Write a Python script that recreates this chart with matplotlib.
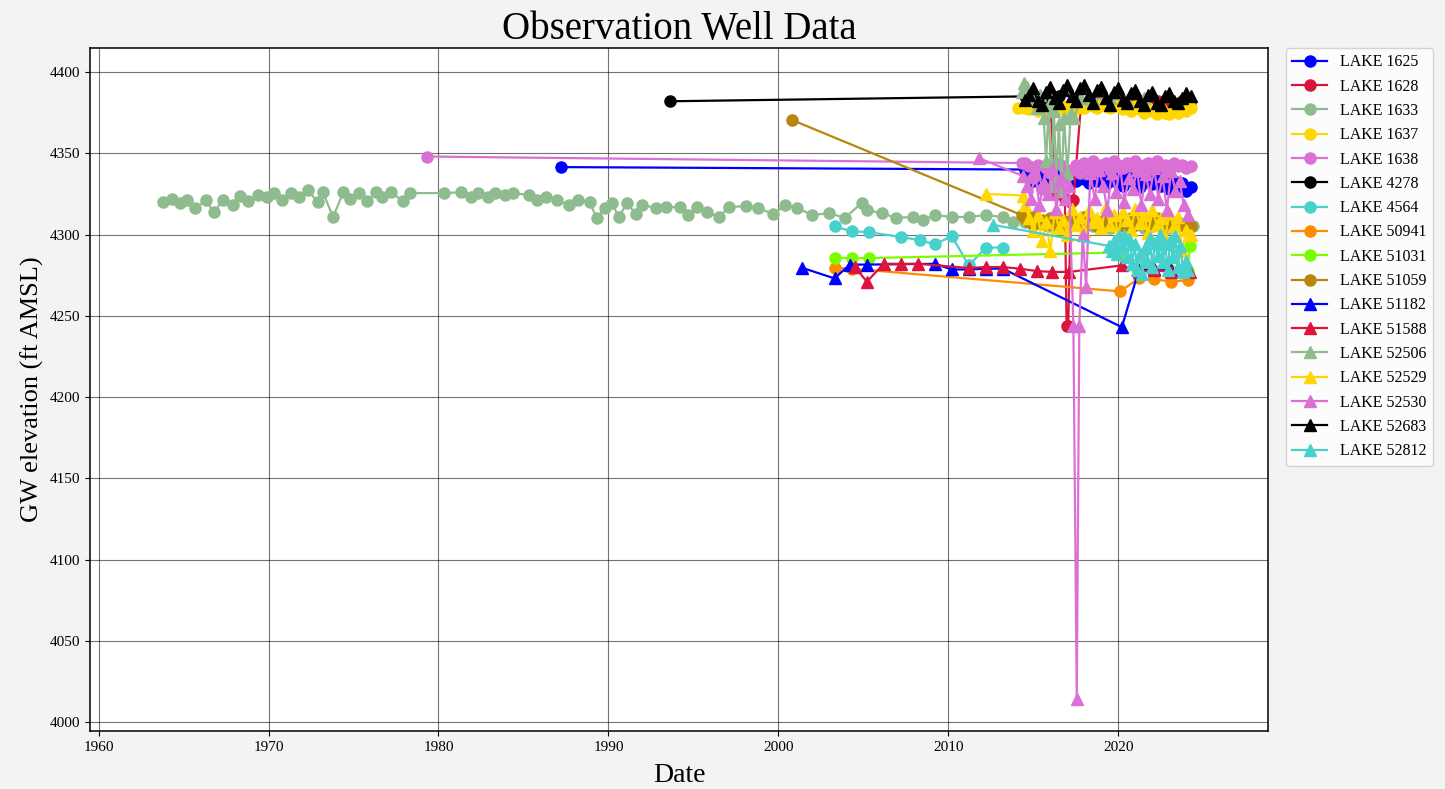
import matplotlib
matplotlib.use("Agg")
import matplotlib.pyplot as plt
from matplotlib.ticker import MultipleLocator, FormatStrFormatter

plt.rcParams['font.family'] = ['Liberation Serif', 'DejaVu Serif']

# ---- data (decimal years, ft AMSL) ----
dense_dates = [2014.5, 2014.75, 2015.0, 2015.25, 2015.5, 2015.75, 2016.0, 2016.25, 2016.5, 2016.75,
               2017.0, 2017.25, 2017.5, 2017.75, 2018.0, 2018.25, 2018.5, 2018.75, 2019.0, 2019.25,
               2019.5, 2019.75, 2020.0, 2020.25, 2020.5, 2020.75, 2021.0, 2021.25, 2021.5, 2021.75,
               2022.0, 2022.25, 2022.5, 2022.75, 2023.0, 2023.25, 2023.5, 2023.75, 2024.0, 2024.25]

lake1625_x = [1987.2] + dense_dates
lake1625_y = [4341.5, 4340, 4337, 4333, 4336, 4331, 4338, 4334, 4330, 4337, 4335, 4339, 4336, 4333, 4335,
              4334, 4332, 4337, 4333, 4336, 4331, 4335, 4333, 4337, 4330, 4334, 4336, 4332, 4329, 4335,
              4333, 4331, 4336, 4330, 4334, 4328, 4333, 4330, 4332, 4327, 4329]

lake1628_x = [2014.6, 2015.0, 2015.5, 2016.0, 2016.3, 2016.85, 2016.95, 2017.05, 2017.2, 2017.35, 2017.8,
              2018.3, 2018.8, 2019.3, 2019.8, 2020.3, 2020.8, 2021.3, 2021.8, 2022.3, 2022.8, 2023.3,
              2023.8, 2024.2]
lake1628_y = [4382, 4381, 4380, 4379, 4325, 4322, 4244, 4244, 4320, 4321, 4380, 4381, 4382, 4380, 4381,
              4382, 4380, 4381, 4379, 4382, 4380, 4381, 4383, 4381]

lake1633_x = [1963.8, 1964.35, 1964.8, 1965.2, 1965.7, 1966.3, 1966.8, 1967.3, 1967.9, 1968.3, 1968.8,
              1969.4, 1969.9, 1970.3, 1970.8, 1971.3, 1971.8, 1972.3, 1972.9, 1973.2, 1973.8, 1974.4,
              1974.8, 1975.3, 1975.8, 1976.3, 1976.7, 1977.2, 1977.9, 1978.3, 1980.3, 1981.3, 1981.9,
              1982.3, 1982.9, 1983.3, 1983.9, 1984.4, 1985.3, 1985.8, 1986.3, 1987.0, 1987.7, 1988.2,
              1988.9, 1989.3, 1989.8, 1990.2, 1990.6, 1991.1, 1991.6, 1992.0, 1992.8, 1993.4, 1994.2,
              1994.7, 1995.2, 1995.8, 1996.5, 1997.1, 1998.1, 1998.8, 1999.7, 2000.4, 2001.1, 2002.0,
              2003.0, 2003.9, 2004.9, 2005.2, 2006.1, 2006.9, 2007.9, 2008.5, 2009.2, 2010.2, 2011.2,
              2012.2, 2013.2, 2013.8, 2014.5, 2015.0, 2015.5, 2016.0, 2016.5, 2017.0, 2017.5, 2018.0,
              2018.5, 2019.0, 2019.5, 2020.0, 2020.5, 2021.0, 2021.5, 2022.0, 2022.5, 2023.0, 2023.5,
              2024.0, 2024.4]
lake1633_y = [4320, 4321.8, 4319.4, 4321, 4316.3, 4321, 4313.8, 4321, 4318.2, 4323.7, 4320.6,
              4324.3, 4323, 4325.5, 4321, 4325.5, 4323, 4327.4, 4320, 4326, 4310.8, 4326,
              4321.8, 4325.5, 4320.6, 4326, 4323, 4326, 4320.6, 4325.5, 4325.5, 4326, 4323,
              4325.5, 4323, 4325.5, 4324.3, 4325.5, 4324.3, 4321, 4323, 4321, 4318.2, 4321,
              4320, 4310.2, 4316.3, 4319.4, 4310.8, 4319.4, 4312.6, 4318.2, 4316.3, 4316.9, 4316.9,
              4312, 4316.9, 4313.8, 4310.8, 4316.9, 4317.5, 4316.3, 4312.6, 4318.2, 4316.3, 4312,
              4313.2, 4310.2, 4319.4, 4315, 4313.2, 4310.2, 4310.8, 4309, 4312, 4310.8, 4310.8,
              4312, 4310.8, 4307.7, 4308, 4306, 4307, 4305, 4306, 4304, 4306, 4307,
              4305, 4306, 4304, 4306, 4305, 4306, 4304, 4305, 4306, 4304, 4305,
              4306, 4305]

lake1637_x = [2014.1] + dense_dates
lake1637_y = [4378, 4378, 4377, 4379, 4376, 4378, 4375, 4377, 4376, 4378, 4377, 4379, 4378, 4377, 4379,
              4378, 4380, 4379, 4378, 4380, 4379, 4378, 4380, 4379, 4377, 4378, 4376, 4379, 4377, 4375,
              4378, 4376, 4374, 4377, 4375, 4374, 4376, 4375, 4377, 4376, 4378]

lake1638_x = [1979.3, 2014.3] + dense_dates
lake1638_y = [4348, 4344, 4344, 4342, 4335, 4343, 4328, 4341, 4338, 4344, 4330, 4342, 4336, 4340, 4343,
              4338, 4344, 4342, 4345, 4341, 4343, 4344, 4340, 4345, 4343, 4341, 4344, 4342, 4345, 4339,
              4343, 4344, 4341, 4345, 4342, 4343, 4340, 4344, 4342, 4343, 4341, 4342]

lake4278_x = [1993.6, 2014.5, 2015.5, 2016.5]
lake4278_y = [4382, 4385, 4384, 4385]

lake4564_x = [2003.3, 2004.3, 2005.3, 2007.2, 2008.3, 2009.2, 2010.2, 2011.2, 2012.2, 2013.2]
lake4564_y = [4305, 4302, 4301.5, 4298.5, 4296.6, 4294, 4299, 4281, 4292, 4292]

lake50941_x = [2003.3, 2004.3, 2020.1, 2021.2, 2022.1, 2023.1, 2024.1]
lake50941_y = [4279.5, 4279, 4265, 4273, 4272.5, 4271, 4272]

lake51031_x = [2003.3, 2004.3, 2005.3, 2020.2, 2021.1, 2022.0, 2023.0, 2024.1, 2024.2]
lake51031_y = [4285.5, 4285.5, 4285.5, 4289, 4279, 4278.5, 4278.5, 4277.5, 4293]

lake51059_x = [2000.8, 2014.3] + dense_dates
lake51059_y = [4370.5, 4312, 4310, 4308, 4311, 4307, 4309, 4306, 4310, 4308, 4305, 4309, 4307, 4310,
               4306, 4308, 4311, 4307, 4309, 4305, 4308, 4310, 4306, 4309, 4307, 4305, 4308, 4310,
               4306, 4309, 4307, 4305, 4308, 4310, 4306, 4307, 4309, 4305, 4308, 4306, 4307, 4305]

lake51182_x = [2001.4, 2003.3, 2004.2, 2005.2, 2009.2, 2010.2, 2011.2, 2012.2, 2013.2, 2020.2, 2021.2,
               2022.1, 2023.1, 2024.1]
lake51182_y = [4279.5, 4273, 4281.5, 4281.5, 4282, 4278.5, 4278.5, 4279, 4279, 4243, 4278, 4278.5,
               4278, 4277.5]

lake51588_x = [2004.5, 2005.2, 2006.2, 2007.2, 2008.2, 2011.2, 2012.2, 2013.2, 2014.2, 2015.2, 2016.1,
               2017.1, 2020.2, 2021.2, 2022.1, 2023.1, 2024.2]
lake51588_y = [4280, 4271, 4282, 4282, 4282, 4279.4, 4280, 4280, 4279, 4277.5, 4277, 4277, 4281, 4277,
               4278, 4277, 4277]

lake52506_x = [2014.3, 2014.45, 2014.6, 2014.8, 2015.0, 2015.2, 2015.4, 2015.6, 2015.75, 2015.9, 2016.05,
               2016.2, 2016.35, 2016.5, 2016.65, 2016.8, 2017.0, 2017.2, 2017.4, 2017.8, 2018.5, 2019.5,
               2020.5, 2021.5]
lake52506_y = [4388, 4393, 4391, 4387, 4384, 4378, 4386, 4372, 4345, 4380, 4330, 4376, 4335, 4368,
               4327, 4372, 4338, 4375, 4372, 4384, 4383, 4384, 4383, 4384]

lake52529_x = [2012.2, 2014.4] + dense_dates
lake52529_y = [4325, 4324, 4318, 4310, 4302, 4312, 4296, 4308, 4290, 4314, 4304, 4309, 4300, 4316, 4306,
               4311, 4302, 4315, 4308, 4310, 4304, 4317, 4306, 4312, 4300, 4314, 4309, 4303, 4316, 4307,
               4312, 4301, 4315, 4306, 4310, 4298, 4313, 4305, 4311, 4290, 4303, 4300]

lake52530_x = [2011.8, 2014.4, 2014.6, 2014.85, 2015.1, 2015.35, 2015.6, 2015.85, 2016.1, 2016.35, 2016.6,
               2016.85, 2017.1, 2017.35, 2017.55, 2017.7, 2017.9, 2018.1, 2018.35, 2018.6, 2018.85,
               2019.1, 2019.35, 2019.6, 2019.85, 2020.1, 2020.35, 2020.6, 2020.85, 2021.1, 2021.35,
               2021.6, 2021.85, 2022.1, 2022.35, 2022.6, 2022.85, 2023.1, 2023.35, 2023.6, 2023.85, 2024.1]
lake52530_y = [4347, 4336, 4330, 4322, 4338, 4318, 4332, 4325, 4340, 4316, 4335, 4322, 4330, 4244, 4014,
               4244, 4300, 4268, 4338, 4322, 4340, 4330, 4315, 4338, 4326, 4342, 4320, 4335, 4328, 4340,
               4318, 4337, 4325, 4341, 4322, 4336, 4315, 4339, 4327, 4333, 4318, 4312]

lake52683_x = dense_dates
lake52683_y = [4383, 4386, 4390, 4382, 4380, 4388, 4391, 4384, 4381, 4389, 4392, 4385, 4382, 4390, 4392,
               4386, 4381, 4389, 4391, 4384, 4380, 4388, 4390, 4383, 4381, 4387, 4389, 4382, 4380, 4386,
               4388, 4381, 4380, 4385, 4387, 4382, 4381, 4384, 4387, 4385]

lake52812_x = [2012.6, 2019.45, 2019.6, 2019.75, 2019.9, 2020.05, 2020.2, 2020.35, 2020.5, 2020.65, 2020.8,
               2020.95, 2021.1, 2021.25, 2021.4, 2021.55, 2021.7, 2021.85, 2022.0, 2022.15, 2022.3,
               2022.45, 2022.6, 2022.75, 2022.9, 2023.05, 2023.2, 2023.35, 2023.5, 2023.65, 2023.8,
               2023.95, 2024.1]
lake52812_y = [4306, 4293, 4290, 4296, 4288, 4299, 4292, 4300, 4286, 4297, 4282, 4294, 4278, 4288, 4276,
               4292, 4284, 4298, 4280, 4295, 4287, 4300, 4283, 4294, 4278, 4296, 4286, 4299, 4280, 4293,
               4277, 4284, 4278]

series = [
    ("LAKE 1625", lake1625_x, lake1625_y, 'blue', 'o'),
    ("LAKE 1628", lake1628_x, lake1628_y, 'crimson', 'o'),
    ("LAKE 1633", lake1633_x, lake1633_y, 'darkseagreen', 'o'),
    ("LAKE 1637", lake1637_x, lake1637_y, 'gold', 'o'),
    ("LAKE 1638", lake1638_x, lake1638_y, 'orchid', 'o'),
    ("LAKE 4278", lake4278_x, lake4278_y, 'black', 'o'),
    ("LAKE 4564", lake4564_x, lake4564_y, 'mediumturquoise', 'o'),
    ("LAKE 50941", lake50941_x, lake50941_y, 'darkorange', 'o'),
    ("LAKE 51031", lake51031_x, lake51031_y, 'lawngreen', 'o'),
    ("LAKE 51059", lake51059_x, lake51059_y, 'darkgoldenrod', 'o'),
    ("LAKE 51182", lake51182_x, lake51182_y, 'blue', '^'),
    ("LAKE 51588", lake51588_x, lake51588_y, 'crimson', '^'),
    ("LAKE 52506", lake52506_x, lake52506_y, 'darkseagreen', '^'),
    ("LAKE 52529", lake52529_x, lake52529_y, 'gold', '^'),
    ("LAKE 52530", lake52530_x, lake52530_y, 'orchid', '^'),
    ("LAKE 52683", lake52683_x, lake52683_y, 'black', '^'),
    ("LAKE 52812", lake52812_x, lake52812_y, 'mediumturquoise', '^'),
]

fig = plt.figure(figsize=(14.45, 7.89), dpi=100, facecolor='#f3f3f3')
ax = fig.add_axes([0.0623, 0.0735, 0.8152, 0.8657])

for name, xs, ys, color, marker in series:
    ax.plot(xs, ys, color=color, marker=marker, markersize=8, linewidth=1.6, label=name)

ax.set_xlim(1959.5, 2028.8)
ax.set_ylim(3994.5, 4414.8)
ax.xaxis.set_major_locator(MultipleLocator(10))
ax.xaxis.set_major_formatter(FormatStrFormatter('%d'))
ax.yaxis.set_major_locator(MultipleLocator(50))
ax.tick_params(labelsize=11)
ax.grid(True, color='black', alpha=0.55, linewidth=0.8)
for s in ax.spines.values():
    s.set_linewidth(1.1)

ax.set_title('Observation Well Data', fontsize=28, pad=3)
ax.set_xlabel('Date', fontsize=20, labelpad=7)
ax.set_ylabel('GW elevation (ft AMSL)', fontsize=19)
ax.legend(loc='upper left', bbox_to_anchor=(1.015, 1.0), fontsize=11.5, labelspacing=0.52,
          borderaxespad=0, handlelength=2.2)

fig.savefig('out.png', dpi=100, facecolor=fig.get_facecolor())
